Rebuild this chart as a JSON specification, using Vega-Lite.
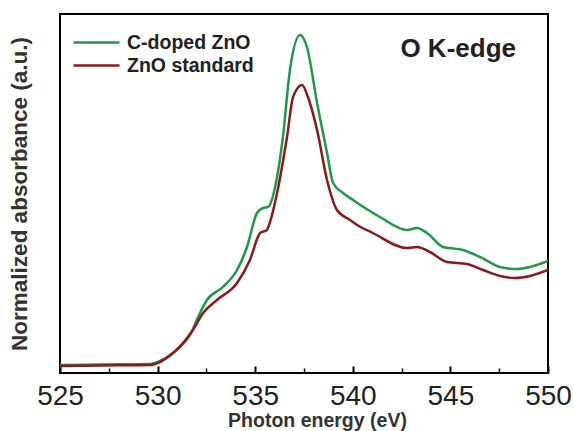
{
  "$schema": "https://vega.github.io/schema/vega-lite/v6.json",
  "width": 488,
  "height": 359,
  "autosize": {"type": "none"},
  "padding": {"left": 60, "top": 14, "right": 26, "bottom": 58},
  "config": {
    "font": "Liberation Sans",
    "view": {"stroke": "black", "strokeWidth": 2}
  },
  "datasets": {
    "spectra": [
      {"series": "C-doped ZnO", "energy": 525.0, "abs": 0.08},
      {"series": "C-doped ZnO", "energy": 527.05, "abs": 0.085},
      {"series": "C-doped ZnO", "energy": 529.61, "abs": 0.09},
      {"series": "C-doped ZnO", "energy": 530.12, "abs": 0.12},
      {"series": "C-doped ZnO", "energy": 530.79, "abs": 0.2},
      {"series": "C-doped ZnO", "energy": 531.15, "abs": 0.26},
      {"series": "C-doped ZnO", "energy": 531.66, "abs": 0.38},
      {"series": "C-doped ZnO", "energy": 532.17, "abs": 0.6},
      {"series": "C-doped ZnO", "energy": 532.53, "abs": 0.73},
      {"series": "C-doped ZnO", "energy": 533.35, "abs": 0.86},
      {"series": "C-doped ZnO", "energy": 534.07, "abs": 1.03},
      {"series": "C-doped ZnO", "energy": 534.58, "abs": 1.26},
      {"series": "C-doped ZnO", "energy": 535.09, "abs": 1.6},
      {"series": "C-doped ZnO", "energy": 535.4, "abs": 1.65},
      {"series": "C-doped ZnO", "energy": 535.66, "abs": 1.66},
      {"series": "C-doped ZnO", "energy": 536.12, "abs": 1.96},
      {"series": "C-doped ZnO", "energy": 536.42, "abs": 2.36},
      {"series": "C-doped ZnO", "energy": 536.78, "abs": 3.03},
      {"series": "C-doped ZnO", "energy": 537.3, "abs": 3.38},
      {"series": "C-doped ZnO", "energy": 537.65, "abs": 3.26},
      {"series": "C-doped ZnO", "energy": 538.17, "abs": 2.7},
      {"series": "C-doped ZnO", "energy": 538.68, "abs": 2.2},
      {"series": "C-doped ZnO", "energy": 538.99, "abs": 1.9},
      {"series": "C-doped ZnO", "energy": 539.5, "abs": 1.8},
      {"series": "C-doped ZnO", "energy": 540.01, "abs": 1.73},
      {"series": "C-doped ZnO", "energy": 541.39, "abs": 1.56},
      {"series": "C-doped ZnO", "energy": 542.78, "abs": 1.43},
      {"series": "C-doped ZnO", "energy": 543.29, "abs": 1.45},
      {"series": "C-doped ZnO", "energy": 543.8, "abs": 1.4},
      {"series": "C-doped ZnO", "energy": 544.62, "abs": 1.26},
      {"series": "C-doped ZnO", "energy": 545.65, "abs": 1.23},
      {"series": "C-doped ZnO", "energy": 546.52, "abs": 1.16},
      {"series": "C-doped ZnO", "energy": 547.54, "abs": 1.06},
      {"series": "C-doped ZnO", "energy": 548.41, "abs": 1.04},
      {"series": "C-doped ZnO", "energy": 549.08, "abs": 1.06},
      {"series": "C-doped ZnO", "energy": 550.0, "abs": 1.12},
      {"series": "ZnO standard", "energy": 525.0, "abs": 0.07},
      {"series": "ZnO standard", "energy": 527.05, "abs": 0.075},
      {"series": "ZnO standard", "energy": 529.61, "abs": 0.08},
      {"series": "ZnO standard", "energy": 530.12, "abs": 0.11},
      {"series": "ZnO standard", "energy": 530.79, "abs": 0.2},
      {"series": "ZnO standard", "energy": 531.3, "abs": 0.3},
      {"series": "ZnO standard", "energy": 531.81, "abs": 0.43},
      {"series": "ZnO standard", "energy": 532.33, "abs": 0.6},
      {"series": "ZnO standard", "energy": 533.04, "abs": 0.73},
      {"series": "ZnO standard", "energy": 534.07, "abs": 0.9},
      {"series": "ZnO standard", "energy": 534.73, "abs": 1.13},
      {"series": "ZnO standard", "energy": 535.25, "abs": 1.4},
      {"series": "ZnO standard", "energy": 535.6, "abs": 1.43},
      {"series": "ZnO standard", "energy": 535.76, "abs": 1.51},
      {"series": "ZnO standard", "energy": 536.12, "abs": 1.8},
      {"series": "ZnO standard", "energy": 536.63, "abs": 2.36},
      {"series": "ZnO standard", "energy": 536.94, "abs": 2.76},
      {"series": "ZnO standard", "energy": 537.4, "abs": 2.88},
      {"series": "ZnO standard", "energy": 537.7, "abs": 2.76},
      {"series": "ZnO standard", "energy": 538.17, "abs": 2.43},
      {"series": "ZnO standard", "energy": 538.68, "abs": 1.93},
      {"series": "ZnO standard", "energy": 539.19, "abs": 1.63},
      {"series": "ZnO standard", "energy": 539.86, "abs": 1.53},
      {"series": "ZnO standard", "energy": 540.22, "abs": 1.48},
      {"series": "ZnO standard", "energy": 541.03, "abs": 1.4},
      {"series": "ZnO standard", "energy": 542.78, "abs": 1.25},
      {"series": "ZnO standard", "energy": 543.29, "abs": 1.26},
      {"series": "ZnO standard", "energy": 543.95, "abs": 1.21},
      {"series": "ZnO standard", "energy": 544.83, "abs": 1.11},
      {"series": "ZnO standard", "energy": 545.85, "abs": 1.09},
      {"series": "ZnO standard", "energy": 546.67, "abs": 1.03},
      {"series": "ZnO standard", "energy": 547.54, "abs": 0.97},
      {"series": "ZnO standard", "energy": 548.31, "abs": 0.95},
      {"series": "ZnO standard", "energy": 549.08, "abs": 0.97},
      {"series": "ZnO standard", "energy": 550.0, "abs": 1.03}
    ],
    "annot": [
      {"energy": 545.4, "abs": 3.24, "label": "O K-edge"}
    ]
  },
  "layer": [
    {
      "data": {"name": "spectra"},
      "mark": {"type": "line", "strokeWidth": 2.5, "interpolate": "monotone", "clip": true},
      "encoding": {
        "x": {
          "field": "energy", "type": "quantitative",
          "scale": {"domain": [525, 550], "nice": false, "zero": false},
          "axis": {
            "orient": "bottom",
            "values": [525, 530, 535, 540, 545, 550],
            "format": "d",
            "grid": false,
            "domain": false,
            "tickSize": -7,
            "tickWidth": 2,
            "tickColor": "black",
            "labelFontSize": 28,
            "labelColor": "#222",
            "labelPadding": 16,
            "labelFlush": false,
            "title": "Photon energy (eV)",
            "titleFontSize": 19.5,
            "titleFontWeight": "bold",
            "titleColor": "#333",
            "titlePadding": 1,
            "titleX": 257,
            "titleAlign": "center"
          }
        },
        "y": {
          "field": "abs", "type": "quantitative",
          "scale": {"domain": [0, 3.59], "nice": false},
          "axis": {
            "grid": false,
            "domain": false,
            "ticks": false,
            "labels": false,
            "title": "Normalized absorbance (a.u.)",
            "titleFontSize": 22.5,
            "titleFontWeight": "bold",
            "titleColor": "#333",
            "titlePadding": 29
          }
        },
        "color": {
          "field": "series", "type": "nominal",
          "scale": {"domain": ["C-doped ZnO", "ZnO standard"], "range": ["#1e9a4a", "#8b1a1a"]},
          "legend": {
            "title": null,
            "orient": "none",
            "legendX": 23.5,
            "legendY": 15.5,
            "padding": 0,
            "symbolType": "M-2,0H2",
            "symbolSize": 529,
            "symbolStrokeWidth": 2.5,
            "labelFontSize": 19.5,
            "labelFontWeight": "bold",
            "labelColor": "#222",
            "labelOffset": 17.5,
            "rowPadding": 0
          }
        }
      }
    },
    {
      "data": {"name": "annot"},
      "mark": {"type": "text", "fontSize": 26, "fontWeight": "bold", "color": "#222", "align": "center", "baseline": "middle"},
      "encoding": {
        "x": {
          "field": "energy", "type": "quantitative",
          "axis": {
            "orient": "bottom",
            "values": [527.5, 532.5, 537.5, 542.5, 547.5],
            "labels": false,
            "domain": false,
            "grid": false,
            "tickSize": -5,
            "tickWidth": 1.5,
            "tickColor": "black",
            "title": null
          }
        },
        "y": {
          "field": "abs", "type": "quantitative",
          "axis": {
            "grid": false,
            "domain": false,
            "ticks": false,
            "labels": false,
            "title": "Normalized absorbance (a.u.)",
            "titleFontSize": 22.5,
            "titleFontWeight": "bold",
            "titleColor": "#333",
            "titlePadding": 29
          }
        },
        "text": {"field": "label"}
      }
    }
  ],
  "resolve": {"axis": {"x": "independent"}}
}
